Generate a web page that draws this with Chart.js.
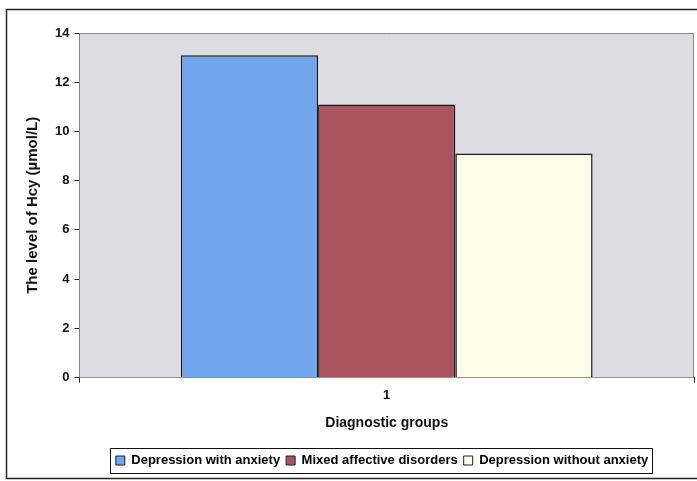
<!DOCTYPE html>
<html>
<head>
<meta charset="utf-8">
<script src="https://cdn.jsdelivr.net/npm/chart.js@4"></script>
<style>
  html, body { margin: 0; padding: 0; background: #fff; }
  #wrap { width: 697px; height: 481px; position: relative; }
</style>
</head>
<body>
<div id="wrap"><canvas id="myChart" width="697" height="481"></canvas></div>
<script>
const categories = ['1'];
const seriesNames = ['Depression with anxiety', 'Mixed affective disorders', 'Depression without anxiety'];
const seriesValues = [[13.1], [11.1], [9.1]];
const seriesColors = ['#72a6ec', '#a9545f', '#fffdea'];
const yTicks = [0, 2, 4, 6, 8, 10, 12, 14];

const fontName = '"Liberation Sans", Arial, sans-serif';

// grey plot area + outer frame + box round the legend
const framePlugin = {
    id: 'frame',
    afterLayout(chart) {
        // legend sits under the plot area, not under the whole canvas
        chart.legend.left += 23;
        chart.legend.right += 23;
    },
    beforeDatasetsDraw(chart) {
        const a = chart.chartArea;
        const ctx = chart.ctx;
        ctx.save();
        ctx.fillStyle = '#dddce3';
        ctx.fillRect(a.left, a.top, a.right - a.left, a.bottom - a.top);
        ctx.lineWidth = 1;
        ctx.beginPath();
        ctx.moveTo(a.left, a.top + 0.5);
        ctx.lineTo(a.right - 0.5, a.top + 0.5);
        ctx.lineTo(a.right - 0.5, a.bottom);
        ctx.strokeStyle = '#888';
        ctx.stroke();
        ctx.restore();
    },
    afterDraw(chart) {
        const ctx = chart.ctx;
        ctx.save();
        ctx.strokeStyle = '#222';
        ctx.lineWidth = 1.5;
        ctx.strokeRect(6.5, 9.5, 700, 469);
        const boxes = chart.legend.legendHitBoxes;
        if (boxes && boxes.length) {
            const first = boxes[0], last = boxes[boxes.length - 1];
            const x0 = first.left - 6, x1 = last.left + last.width + 4;
            const y0 = first.top - 6, y1 = first.top + first.height + 6;
            ctx.lineWidth = 1;
            ctx.strokeStyle = '#111';
            ctx.strokeRect(Math.round(x0) + 0.5, Math.round(y0) + 0.5, Math.round(x1 - x0), Math.round(y1 - y0));
        }
        ctx.restore();
    }
};

const data = {
    labels: categories,
    datasets: seriesNames.map((name, i) => ({
        label: name,
        data: seriesValues[i],
        backgroundColor: seriesColors[i],
        borderColor: '#1a1a1a',
        borderWidth: 1.5,
        borderSkipped: 'bottom'
    }))
};

const config = {
    type: 'bar',
    data: data,
    plugins: [framePlugin],
    options: {
        responsive: false,
        animation: false,
        devicePixelRatio: 1,
        categoryPercentage: 0.67,
        barPercentage: 1,
        layout: { padding: { top: 33, right: 3, left: 24, bottom: 4 } },
        plugins: {
            tooltip: { enabled: false },
            legend: {
                position: 'bottom',
                labels: {
                    color: '#111',
                    boxWidth: 9,
                    boxHeight: 9,
                    padding: 6,
                    font: { family: fontName, size: 13, weight: 'bold' },
                    generateLabels(chart) {
                        return chart.data.datasets.map((ds, i) => ({
                            text: ds.label,
                            fillStyle: ds.backgroundColor,
                            strokeStyle: '#222',
                            lineWidth: 1,
                            datasetIndex: i
                        }));
                    }
                }
            }
        },
        scales: {
            x: {
                grid: { display: true, drawOnChartArea: false, drawTicks: true, tickLength: 5, color: '#222' },
                border: { display: true, color: '#222', width: 1 },
                ticks: { color: '#111', font: { family: fontName, size: 13, weight: 'bold' }, padding: 5 },
                title: {
                    display: true,
                    text: 'Diagnostic groups',
                    color: '#111',
                    font: { family: fontName, size: 14, weight: 'bold' },
                    padding: { top: 7, bottom: 16 }
                }
            },
            y: {
                min: 0,
                max: 14,
                afterBuildTicks(scale) { scale.ticks = yTicks.map(v => ({ value: v })); },
                grid: { display: true, drawOnChartArea: false, drawTicks: true, tickLength: 5, color: '#222' },
                border: { display: true, color: '#222', width: 1 },
                ticks: { color: '#111', font: { family: fontName, size: 13, weight: 'bold' }, padding: 5 },
                title: {
                    display: true,
                    text: 'The level of Hcy (µmol/L)',
                    color: '#111',
                    font: { family: fontName, size: 15, weight: 'bold' },
                    padding: { top: 0, bottom: 8 }
                }
            }
        }
    }
};

new Chart(document.getElementById('myChart'), config);
</script>
</body>
</html>
